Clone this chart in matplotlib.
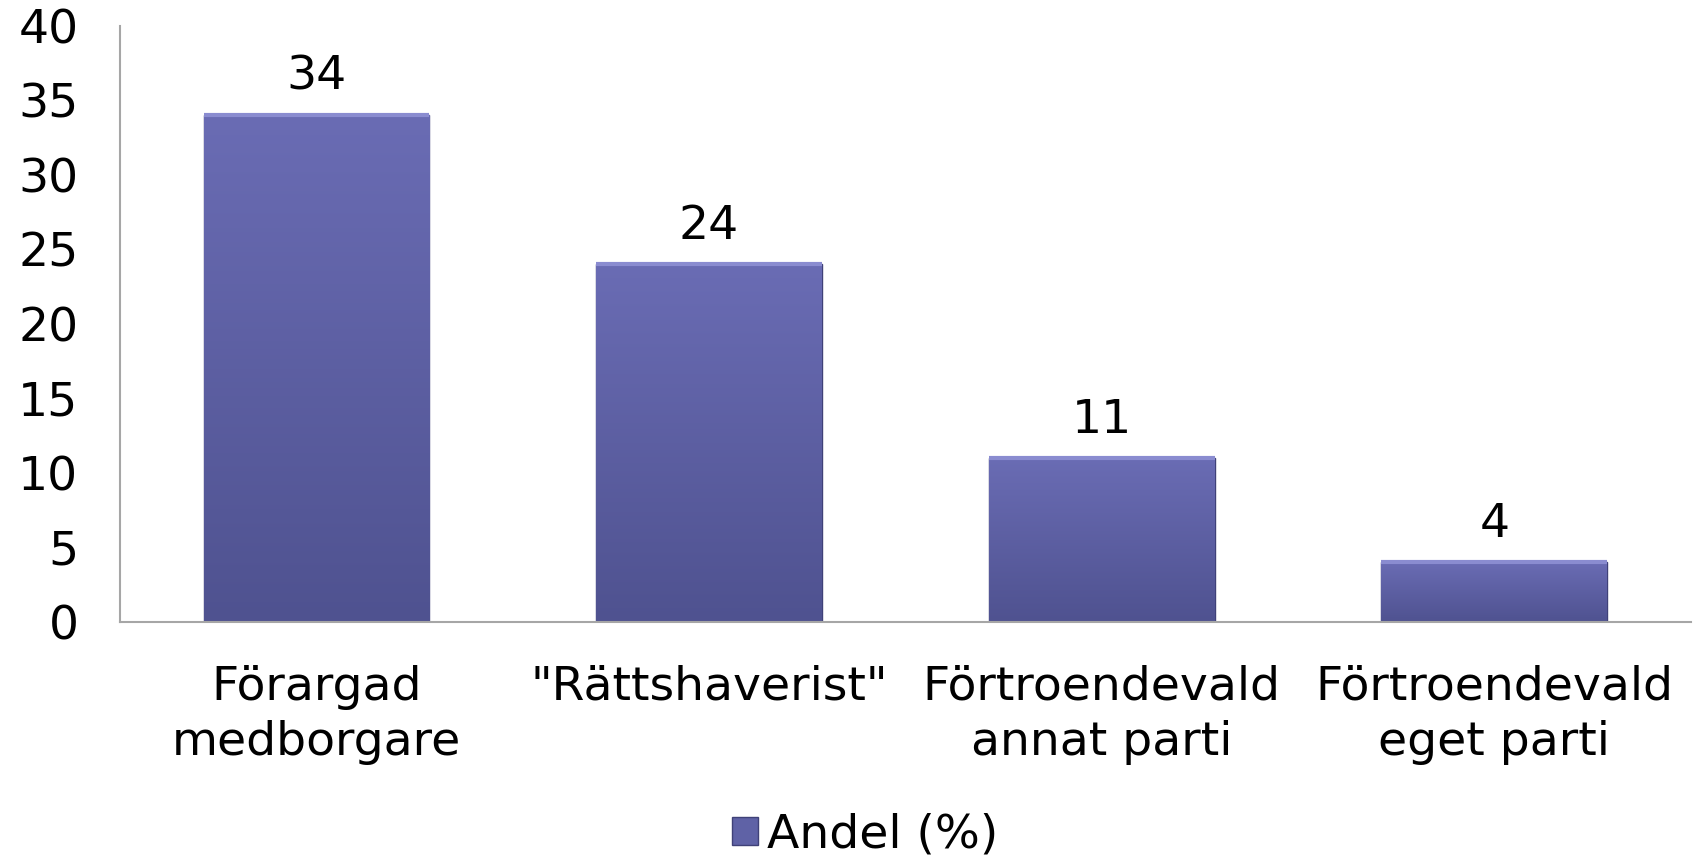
import matplotlib.pyplot as plt
import numpy as np
from matplotlib.patches import Patch
from matplotlib.colors import LinearSegmentedColormap

categories = ["Förargad\nmedborgare", "\"Rättshaverist\"", "Förtroendevald\nannat parti", "Förtroendevald\neget parti"]
values = [34, 24, 11, 4]
series_name = "Andel (%)"
yticks = [0, 5, 10, 15, 20, 25, 30, 35, 40]

plt.rcParams['font.family'] = ['DejaVu Sans']
FS = 34

fig = plt.figure(figsize=(16.96, 8.59), dpi=100)
ax = fig.add_axes([0.0708, 0.276, 0.926, 0.694])

x = np.arange(len(categories))
bars = ax.bar(x, values, width=0.575, color='#5f62a6', edgecolor='#3f4178', linewidth=1.0, zorder=2)

# vertical gradient inside each bar
grad = np.linspace(0, 1, 256).reshape(-1, 1)
cmap = LinearSegmentedColormap.from_list('bar', ['#4f5290', '#6a6cb4'])
for b in bars:
    x0, y0 = b.get_x(), b.get_y()
    w, h = b.get_width(), b.get_height()
    im = ax.imshow(grad, cmap=cmap, aspect='auto', origin='lower',
                   extent=(x0, x0 + w, y0, y0 + h), zorder=2.5)
    im.set_clip_path(b)
    # light top bevel
    ax.plot([x0, x0 + w], [y0 + h, y0 + h], color='#8a8cd0', lw=3, zorder=3, solid_capstyle='butt')

ax.set_xlim(-0.5, len(categories) - 0.5)
ax.set_ylim(0, 40)
ax.set_yticks(yticks)
ax.set_xticks(x)
ax.set_xticklabels(categories, fontsize=FS, linespacing=1.3)
ax.tick_params(axis='y', labelsize=FS, length=0, pad=30)
ax.tick_params(axis='x', length=0, pad=31)

for s in ['top', 'right']:
    ax.spines[s].set_visible(False)
ax.spines['left'].set_color('#a6a6a6')
ax.spines['bottom'].set_color('#a6a6a6')
ax.spines['left'].set_linewidth(1.5)
ax.spines['bottom'].set_linewidth(1.5)

for b, v in zip(bars, values):
    ax.annotate(str(v), (b.get_x() + b.get_width() / 2, b.get_height()),
                xytext=(0, 11), textcoords='offset points', ha='center', va='bottom', fontsize=FS)

handle = Patch(facecolor='#5f62a6', edgecolor='#3f4178')
fig.legend([handle], [series_name], loc='lower center', bbox_to_anchor=(0.51, -0.048), frameon=False,
           fontsize=FS, handlelength=0.55, handleheight=0.55, handletextpad=0.2)

fig.savefig('out.png', dpi=100)
